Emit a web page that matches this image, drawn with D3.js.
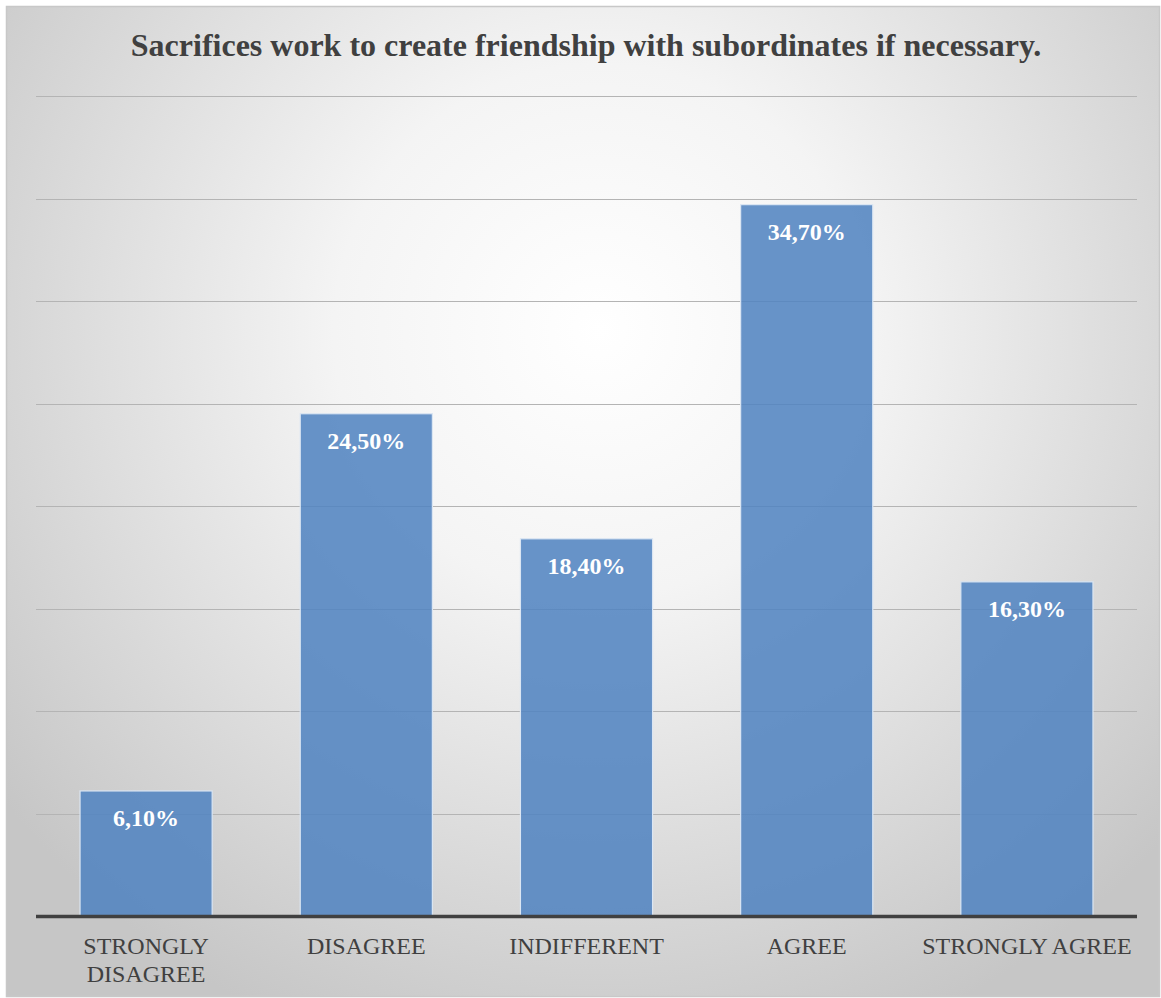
<!DOCTYPE html>
<html>
<head>
<meta charset="utf-8">
<script src="https://cdn.jsdelivr.net/npm/d3@7"></script>
<style>
  html, body { margin: 0; padding: 0; background: #ffffff; }
  svg { display: block; }
</style>
</head>
<body>
<svg id="chart" width="1161" height="998"></svg>
<script>
// Survey responses (percent of respondents)
const categories = ["STRONGLY DISAGREE", "DISAGREE", "INDIFFERENT", "AGREE", "STRONGLY AGREE"];
const categoryLines = [["STRONGLY", "DISAGREE"], ["DISAGREE"], ["INDIFFERENT"], ["AGREE"], ["STRONGLY AGREE"]];
const values = [6.1, 24.5, 18.4, 34.7, 16.3];
const valueLabels = ["6,10%", "24,50%", "18,40%", "34,70%", "16,30%"];
const gridTicks = [5, 10, 15, 20, 25, 30, 35, 40];
const title = "Sacrifices work to create friendship with subordinates if necessary.";

const svg = d3.select("#chart");
const W = 1161, H = 998;
const serif = "'Liberation Serif', 'Times New Roman', serif";

// Frame with a soft radial background
const defs = svg.append("defs");
const grad = defs.append("radialGradient")
  .attr("id", "bg").attr("gradientUnits", "userSpaceOnUse")
  .attr("cx", 600).attr("cy", 330).attr("r", 760);
grad.append("stop").attr("offset", "0").attr("stop-color", "#ffffff");
grad.append("stop").attr("offset", "0.35").attr("stop-color", "#f4f4f4");
grad.append("stop").attr("offset", "1").attr("stop-color", "#c6c6c6");

svg.append("rect")
  .attr("x", 6.5).attr("y", 6.5).attr("width", W - 8).attr("height", H - 8)
  .attr("fill", "url(#bg)").attr("stroke", "#c8c8c8").attr("stroke-width", 1.5);

const plot = { left: 36, right: 1137, top: 96, bottom: 916 };

const x = d3.scaleBand()
  .domain(categories)
  .range([plot.left, plot.right])
  .paddingInner(0.4)
  .paddingOuter(0.2);

const y = d3.scaleLinear()
  .domain([0, 40])
  .range([plot.bottom, plot.top]);

// Horizontal gridlines
svg.append("g").selectAll("line").data(gridTicks).join("line")
  .attr("x1", plot.left).attr("x2", plot.right)
  .attr("y1", d => Math.round(y(d)) + 0.5).attr("y2", d => Math.round(y(d)) + 0.5)
  .attr("stroke", "#b4b4b4").attr("stroke-width", 1);

// Bars
svg.append("g").selectAll("rect").data(values).join("rect")
  .attr("x", (d, i) => x(categories[i]))
  .attr("y", d => y(d))
  .attr("width", x.bandwidth())
  .attr("height", d => plot.bottom - y(d))
  .attr("fill", "#4f82c0").attr("fill-opacity", 0.86)
  .attr("stroke", "#dbe6f3").attr("stroke-width", 1.2);

// Value labels inside the top of each bar
svg.append("g").selectAll("text").data(values).join("text")
  .attr("x", (d, i) => x(categories[i]) + x.bandwidth() / 2)
  .attr("y", d => y(d) + 35)
  .attr("text-anchor", "middle")
  .attr("font-family", serif)
  .attr("font-weight", "bold")
  .attr("font-size", 24)
  .attr("fill", "#ffffff")
  .text((d, i) => valueLabels[i]);

// Category axis
const axis = svg.append("g")
  .attr("transform", `translate(0,${plot.bottom})`)
  .call(d3.axisBottom(x).tickSize(0).tickFormat(""));
axis.select(".domain").remove();
svg.append("line")
  .attr("x1", plot.left).attr("x2", plot.right)
  .attr("y1", plot.bottom + 0.5).attr("y2", plot.bottom + 0.5)
  .attr("stroke", "#404040").attr("stroke-width", 3.5);

axis.selectAll(".tick").each(function(d, i) {
  const t = d3.select(this).append("text")
    .attr("text-anchor", "middle")
    .attr("font-family", serif)
    .attr("font-size", 24)
    .attr("fill", "#404040");
  categoryLines[i].forEach((line, k) => {
    t.append("tspan").attr("x", 0).attr("y", 38 + k * 28).text(line);
  });
});

// Title
svg.append("text")
  .attr("x", 586).attr("y", 56)
  .attr("text-anchor", "middle")
  .attr("font-family", serif)
  .attr("font-weight", "bold")
  .attr("font-size", 32)
  .attr("fill", "#404040")
  .text(title);
</script>
</body>
</html>
